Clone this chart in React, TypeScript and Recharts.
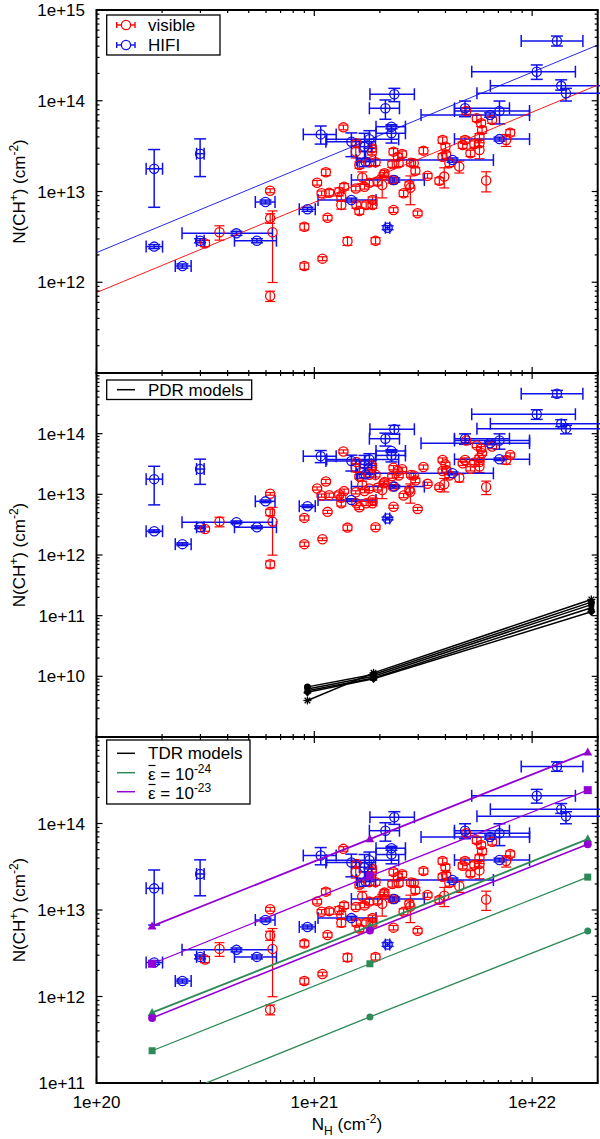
import React from "react";
import { ScatterChart, Scatter, XAxis, YAxis, ErrorBar, ReferenceArea } from "recharts";

const FONT = "'Liberation Sans', Arial, Helvetica, sans-serif";
const RED = "#ff0000";
const BLUE = "#1010e8";
const GREEN = "#2e8b57";
const PURPLE = "#9400d3";

// plot frame (page px), shared by the three panels
const PLOT_L = 96.5;
const PLOT_R = 597.7;

// N_H axis
const xDomain: [number, number] = [1e20, 2e22];

// visible (optical) CH+ sample: N_H, N(CH+), fractional error
const visNH = [
  3.15e20, 3.67e20, 6.27e20, 6.27e20, 6.43e20, 6.27e20, 9.0e20, 9.0e20, 1.09e21, 1.15e21,
  1.03e21, 1.13e21, 1.08e21, 1.17e21, 1.36e21, 1.3e21, 1.37e21, 1.33e21, 1.33e21, 1.42e21,
  1.56e21, 1.55e21, 1.55e21, 1.61e21, 1.61e21, 1.56e21, 1.66e21, 1.7e21, 1.79e21, 1.84e21,
  1.84e21, 1.79e21, 1.91e21, 1.85e21, 1.85e21, 1.73e21, 1.91e21, 1.95e21, 2.05e21, 2.08e21,
  2.31e21, 2.28e21, 2.29e21, 2.31e21, 2.44e21, 2.42e21, 2.53e21, 2.57e21, 2.73e21, 2.76e21,
  2.78e21, 2.86e21, 2.91e21, 2.98e21, 3.17e21, 3.31e21, 3.75e21, 3.88e21, 4.0e21, 3.88e21,
  4.03e21, 3.95e21, 4.17e21, 4.63e21, 4.8e21, 4.92e21, 5.21e21, 5.43e21, 5.57e21, 5.73e21,
  5.73e21, 5.73e21, 5.83e21, 5.89e21, 6.15e21, 6.55e21, 7.6e21, 7.93e21, 4.98e21, 2.1e21,
];
const visN = [
  2.68e12, 3.55e12, 1.02e13, 5.07e12, 3.55e12, 7.05e11, 4.09e12, 1.51e12, 1.82e12, 5.14e12,
  1.25e13, 1.63e13, 9.55e12, 9.7e12, 5.09e13, 9.95e12, 1.13e13, 8.77e12, 7.1e12, 2.83e12,
  3.4e13, 2.75e13, 1.08e13, 1.96e13, 6.1e12, 7.1e12, 1.43e13, 1.13e13, 1.25e13, 2.99e13,
  2.75e13, 2.1e13, 2.1e13, 8.06e12, 7.1e12, 7.1e12, 2.87e12, 1.28e13, 1.18e13, 1.52e13,
  2.75e13, 2.0e13, 1.34e13, 6.25e12, 2.05e13, 2.42e13, 2.59e13, 9.55e12, 1.18e13, 1.1e13,
  2.08e13, 2.05e13, 1.69e13, 5.75e12, 2.82e13, 1.49e13, 1.31e13, 3.69e13, 3.12e13, 2.42e13,
  2.52e13, 1.46e13, 2.05e13, 1.88e13, 3.25e13, 3.69e13, 2.64e13, 3.34e13, 6.41e13, 4.02e13,
  3.4e13, 2.87e13, 5.65e13, 4.77e13, 1.32e13, 6.14e13, 3.69e13, 4.45e13, 7.71e13, 1.59e13,
];
const visErr = [
  0.08, 0.18, 0.05, 0.12, 0.72, 0.13, 0.08, 0.08, 0.05, 0.06,
  0.06, 0.08, 0.06, 0.08, 0.06, 0.1, 0.08, 0.1, 0.1, 0.1,
  0.08, 0.15, 0.06, 0.08, 0.08, 0.08, 0.15, 0.06, 0.08, 0.08,
  0.08, 0.08, 0.08, 0.08, 0.08, 0.08, 0.08, 0.08, 0.28, 0.06,
  0.08, 0.08, 0.08, 0.06, 0.08, 0.08, 0.08, 0.08, 0.08, 0.35,
  0.08, 0.08, 0.08, 0.06, 0.08, 0.06, 0.08, 0.08, 0.08, 0.08,
  0.08, 0.25, 0.08, 0.15, 0.08, 0.08, 0.08, 0.08, 0.08, 0.08,
  0.08, 0.2, 0.08, 0.08, 0.25, 0.08, 0.15, 0.08, 0.08, 0.08,
];

// HIFI sample: N_H with range, N(CH+) with range
const hifiNH = [
  1.84e20, 2.99e20, 1.84e20, 2.48e20, 2.99e20, 4.39e20, 5.45e20, 5.97e20, 9.3e20, 1.07e21,
  1.48e21, 1.79e21, 1.7e21, 1.72e21, 2.26e21, 2.26e21, 2.33e21, 2.12e21, 2.33e21, 1.48e21,
  2.17e21, 4.31e21, 4.92e21, 6.41e21, 7.08e21, 7.08e21, 1.05e22, 1.3e22, 1.36e22, 1.43e22,
];
const hifiNHlo = [
  1.69e20, 2.88e20, 1.69e20, 2.3e20, 2.88e20, 2.47e20, 4.3e20, 5.36e20, 8.53e20, 8.9e20,
  1.13e21, 1.14e21, 1.61e21, 1.58e21, 1.92e21, 1.92e21, 1.8e21, 1.79e21, 1.48e21, 1.04e21,
  2.12e21, 1.56e21, 4.4e21, 3.09e21, 4.4e21, 4.4e21, 5.28e21, 8.91e21, 6.43e21, 5.58e21,
];
const hifiNHhi = [
  2.01e20, 3.12e20, 2.01e20, 2.72e20, 3.12e20, 6.42e20, 6.7e20, 6.6e20, 1.01e21, 1.26e21,
  1.91e21, 2.44e21, 1.83e21, 1.91e21, 2.62e21, 2.62e21, 2.88e21, 2.46e21, 3.2e21, 1.92e21,
  2.22e21, 6.64e21, 7.87e21, 9.73e21, 9.73e21, 9.73e21, 1.58e22, 1.71e22, 2.6e22, 2.6e22,
];
const hifiN = [
  1.78e13, 2.61e13, 2.47e12, 1.51e12, 2.87e12, 3.46e12, 2.87e12, 7.66e12, 6.37e12, 4.26e13,
  3.54e13, 3.76e13, 3.12e13, 2.13e13, 5.18e13, 4.38e13, 1.18e14, 8.26e13, 1.34e13, 8.06e12,
  3.99e12, 2.22e13, 8.26e13, 6.97e13, 7.71e13, 3.78e13, 2.09e14, 4.55e14, 1.46e14, 1.21e14,
];
const hifiNlo = [
  6.7e12, 1.46e13, 2.35e12, 1.43e12, 2.72e12, 3.28e12, 2.72e12, 7.3e12, 6.05e12, 3.33e13,
  2.42e13, 2.99e13, 2.32e13, 1.88e13, 4.9e13, 3.42e13, 9.77e13, 6.25e13, 1.27e13, 7.65e12,
  3.8e12, 2.1e13, 6.67e13, 6.6e13, 5.55e13, 3.6e13, 1.72e14, 4.01e14, 1.31e14, 9.93e13,
];
const hifiNhi = [
  2.9e13, 3.8e13, 2.6e12, 1.59e12, 3.02e12, 3.64e12, 3.02e12, 8.05e12, 6.7e12, 5.27e13,
  4.42e13, 4.68e13, 4.38e13, 2.75e13, 5.45e13, 5.27e13, 1.37e14, 1.02e14, 1.41e13, 8.45e12,
  4.2e12, 2.34e13, 9.93e13, 7.35e13, 9.93e13, 3.97e13, 2.48e14, 5.16e14, 1.7e14, 1.37e14,
];

// power-law fits (top panel), end points
const fitNH = [1e20, 2e22];
const fitVisible = [7.7e11, 1.49e14];
const fitHifi = [2.12e12, 4.11e14];

// PDR models (middle panel)
const pdrNH = [9.3e20, 1.87e21, 1.87e22];
const pdrA = [4.0e9, 1.14e10, 1.85e11];
const pdrB = [6.7e9, 1.07e10, 1.67e11];
const pdrC = [6.2e9, 1.0e10, 1.52e11];
const pdrD = [5.8e9, 9.4e9, 1.35e11];
const pdrE = [5.45e9, 9.1e9, 1.16e11];

// TDR models (bottom panel)
const tdrNH = [1.8e20, 1.8e21, 1.8e22];
const tdr24Tri = [6.5e11, 6.5e12, 6.6e13];
const tdr24Sq = [2.36e11, 2.39e12, 2.4e13];
const tdr24Circ = [5.6e10, 5.8e11, 5.7e12];
const tdr23Tri = [6.5e12, 6.6e13, 6.65e14];
const tdr23Sq = [2.39e12, 2.47e13, 2.43e14];
const tdr23Circ = [5.65e11, 5.8e12, 5.75e13];

const visiblePts = visNH.map((x, i) => ({
  x,
  y: visN[i],
  ey: [visN[i] * visErr[i], visN[i] * visErr[i]],
}));
const hifiPts = hifiNH.map((x, i) => ({
  x,
  y: hifiN[i],
  ex: [x - hifiNHlo[i], hifiNHhi[i] - x],
  ey: [hifiN[i] - hifiNlo[i], hifiNhi[i] - hifiN[i]],
}));
const pairs = (xs: number[], ys: number[]) => xs.map((x, i) => ({ x, y: ys[i] }));

const logTicks = (lo: number, hi: number, max: number) => {
  const out: number[] = [];
  for (let e = lo; e <= hi; e++)
    for (let m = 1; m <= 9; m++) {
      const v = Number((m * Math.pow(10, e)).toPrecision(3));
      if (v <= max * 1.0001) out.push(v);
    }
  return out;
};
const isDecade = (v: number) => Math.abs(Math.log10(v) - Math.round(Math.log10(v))) < 1e-6;
const fmt = (v: number) => `1e+${Math.round(Math.log10(v))}`;
const inList = (v: number, list: number[]) => list.some((l) => Math.abs(Math.log10(v) - Math.log10(l)) < 1e-6);

const xTicks = logTicks(20, 22, 2e22);

const makeXTick = (plotTop: number, labels: boolean) => (p: any) => {
  const { x, y, payload } = p;
  const v = payload.value;
  const major = isDecade(v);
  const len = major ? 6 : 3;
  return (
    <g>
      <line x1={x} x2={x} y1={y} y2={y - len} stroke="#000" strokeWidth={1.2} />
      <line x1={x} x2={x} y1={plotTop} y2={plotTop + len} stroke="#000" strokeWidth={1.2} />
      {labels && major && (
        <text x={x} y={y + 25} textAnchor="middle" fontSize={17} fontFamily={FONT} fill="#000">
          {fmt(v)}
        </text>
      )}
    </g>
  );
};

const makeYTick = (labelled: number[]) => (p: any) => {
  const { x, y, payload } = p;
  const v = payload.value;
  const major = isDecade(v);
  const len = major ? 6 : 3;
  return (
    <g>
      <line x1={x} x2={x + len} y1={y} y2={y} stroke="#000" strokeWidth={1.2} />
      <line x1={PLOT_R} x2={PLOT_R - len} y1={y} y2={y} stroke="#000" strokeWidth={1.2} />
      {inList(v, labelled) && (
        <text x={x - 11.5} y={y} dy="0.36em" textAnchor="end" fontSize={17} fontFamily={FONT} fill="#000">
          {fmt(v)}
        </text>
      )}
    </g>
  );
};

const openCircle = (color: string) => (p: any) => (
  <circle cx={p.cx} cy={p.cy} r={4.6} fill="none" stroke={color} strokeWidth={1.3} />
);
const marker = (kind: string, color: string, s: number) => (p: any) => {
  const { cx, cy } = p;
  if (kind === "circle") return <circle cx={cx} cy={cy} r={s / 2} fill={color} />;
  if (kind === "square") return <rect x={cx - s / 2} y={cy - s / 2} width={s} height={s} fill={color} />;
  if (kind === "triangle")
    return <path d={`M${cx},${cy - s * 0.6}L${cx + s * 0.55},${cy + s * 0.4}L${cx - s * 0.55},${cy + s * 0.4}Z`} fill={color} />;
  if (kind === "diamond")
    return <path d={`M${cx},${cy - s * 0.6}L${cx + s * 0.6},${cy}L${cx},${cy + s * 0.6}L${cx - s * 0.6},${cy}Z`} fill={color} />;
  if (kind === "star") {
    const r = s / 2;
    return (
      <g stroke={color} strokeWidth={1.3}>
        <line x1={cx - r} x2={cx + r} y1={cy} y2={cy} />
        <line x1={cx} x2={cx} y1={cy - r} y2={cy + r} />
        <line x1={cx - r * 0.7} x2={cx + r * 0.7} y1={cy - r * 0.7} y2={cy + r * 0.7} />
        <line x1={cx - r * 0.7} x2={cx + r * 0.7} y1={cy + r * 0.7} y2={cy - r * 0.7} />
      </g>
    );
  }
  return <g />;
};
const noShape = () => <g />;

type PanelCfg = {
  top: number;
  height: number;
  mt: number;
  xh: number;
  yExp: [number, number];
  labelled: number[];
  xLabels: boolean;
};

const axes = (c: PanelCfg) => {
  const yDomain: [number, number] = [Math.pow(10, c.yExp[0]), Math.pow(10, c.yExp[1])];
  return [
    <XAxis
      key="x"
      dataKey="x"
      type="number"
      scale="log"
      domain={xDomain}
      allowDataOverflow
      ticks={xTicks}
      interval={0}
      tickSize={0}
      tickMargin={0}
      axisLine={false}
      height={c.xh}
      tick={makeXTick(c.mt, c.xLabels)}
    />,
    <YAxis
      key="y"
      dataKey="y"
      type="number"
      scale="log"
      domain={yDomain}
      allowDataOverflow
      ticks={logTicks(c.yExp[0], c.yExp[1], yDomain[1])}
      interval={0}
      tickSize={0}
      tickMargin={0}
      axisLine={false}
      width={PLOT_L}
      tick={makeYTick(c.labelled)}
    />,
    <ReferenceArea
      key="frame"
      x1={xDomain[0]}
      x2={xDomain[1]}
      y1={yDomain[0]}
      y2={yDomain[1]}
      fill="none"
      fillOpacity={0}
      stroke="#000"
      strokeWidth={2}
      strokeOpacity={1}
    />,
  ];
};

const observations = () => [
  <Scatter key="vis" data={visiblePts} shape={openCircle(RED)} isAnimationActive={false}>
    <ErrorBar dataKey="ey" direction="y" width={5} stroke={RED} strokeWidth={1.2} />
  </Scatter>,
  <Scatter key="hifi" data={hifiPts} shape={openCircle(BLUE)} isAnimationActive={false}>
    <ErrorBar dataKey="ex" direction="x" width={6} stroke={BLUE} strokeWidth={1.5} />
    <ErrorBar dataKey="ey" direction="y" width={6} stroke={BLUE} strokeWidth={1.5} />
  </Scatter>,
];

const modelLine = (key: string, ys: number[], xs: number[], color: string, kind: string, s: number, w: number) => (
  <Scatter
    key={key}
    data={pairs(xs, ys)}
    line={{ stroke: color, strokeWidth: w }}
    shape={marker(kind, color, s)}
    isAnimationActive={false}
  />
);

const P1: PanelCfg = { top: 0, height: 380, mt: 10, xh: 7, yExp: [11, 15], labelled: [1e12, 1e13, 1e14, 1e15], xLabels: false };
const P2: PanelCfg = { top: 360, height: 390, mt: 13, xh: 13, yExp: [9, 15], labelled: [1e10, 1e11, 1e12, 1e13, 1e14], xLabels: false };
const P3: PanelCfg = { top: 720, height: 419, mt: 17, xh: 56, yExp: [11, 15], labelled: [1e11, 1e12, 1e13, 1e14], xLabels: true };

const Panel = ({ cfg, children }: { cfg: PanelCfg; children: any }) => (
  <div style={{ position: "absolute", left: 0, top: cfg.top, width: 600, height: cfg.height }}>
    <ScatterChart width={600} height={cfg.height} margin={{ top: cfg.mt, right: 600 - PLOT_R, bottom: 0, left: 0 }}>
      {children}
    </ScatterChart>
  </div>
);

const YTitle = ({ cy }: { cy: number }) => (
  <text x={25} y={cy} transform={`rotate(-90 25 ${cy})`} textAnchor="middle" fontSize={17} fontFamily={FONT} fill="#000">
    N(CH<tspan dy={-7} fontSize={12}>+</tspan>
    <tspan dy={7}>) (cm</tspan>
    <tspan dy={-7} fontSize={12}>-2</tspan>
    <tspan dy={7}>)</tspan>
  </text>
);

const ErrGlyph = ({ y, color }: { y: number; color: string }) => (
  <g stroke={color} strokeWidth={1.4} fill="none">
    <line x1={116.7} x2={135} y1={y} y2={y} />
    <line x1={116.7} x2={116.7} y1={y - 3} y2={y + 3} />
    <line x1={135} x2={135} y1={y - 3} y2={y + 3} />
    <circle cx={126} cy={y} r={4.6} strokeWidth={1.3} fill="#fff" />
  </g>
);
const LineGlyph = ({ y, color }: { y: number; color: string }) => (
  <line x1={117} x2={135} y1={y} y2={y} stroke={color} strokeWidth={1.5} />
);
const LegendText = ({ y, children }: { y: number; children: any }) => (
  <text x={148} y={y} dy="0.36em" fontSize={17} fontFamily={FONT} fill="#000">
    {children}
  </text>
);
// epsilon with a bar over it
const EpsBar = ({ y, exp }: { y: number; exp: string }) => (
  <g>
    <LegendText y={y}>
      ε = 10<tspan dy={-7} fontSize={12}>{exp}</tspan>
    </LegendText>
    <line x1={148.5} x2={155.5} y1={y - 8.5} y2={y - 8.5} stroke="#000" strokeWidth={1.2} />
  </g>
);

export default function App() {
  return (
    <div style={{ position: "absolute", left: 0, top: 0, width: 600, height: 1139, background: "#fff", fontFamily: FONT }}>
      <Panel cfg={P1}>
        {axes(P1)}
        <Scatter data={pairs(fitNH, fitHifi)} line={{ stroke: BLUE, strokeWidth: 0.9 }} shape={noShape} isAnimationActive={false} />
        <Scatter data={pairs(fitNH, fitVisible)} line={{ stroke: RED, strokeWidth: 0.9 }} shape={noShape} isAnimationActive={false} />
        {observations()}
      </Panel>
      <Panel cfg={P2}>
        {axes(P2)}
        {observations()}
        {modelLine("pa", pdrA, pdrNH, "#000", "star", 8, 1.5)}
        {modelLine("pb", pdrB, pdrNH, "#000", "circle", 7, 1.5)}
        {modelLine("pc", pdrC, pdrNH, "#000", "square", 6, 1.5)}
        {modelLine("pd", pdrD, pdrNH, "#000", "triangle", 7, 1.5)}
        {modelLine("pe", pdrE, pdrNH, "#000", "diamond", 7, 1.5)}
      </Panel>
      <Panel cfg={P3}>
        {axes(P3)}
        {observations()}
        {modelLine("g3", tdr24Circ, tdrNH, GREEN, "circle", 7, 1.3)}
        {modelLine("g2", tdr24Sq, tdrNH, GREEN, "square", 7, 1.3)}
        {modelLine("g1", tdr24Tri, tdrNH, GREEN, "triangle", 8, 1.8)}
        {modelLine("v3", tdr23Circ, tdrNH, PURPLE, "circle", 8, 1.6)}
        {modelLine("v2", tdr23Sq, tdrNH, PURPLE, "square", 8, 1.3)}
        {modelLine("v1", tdr23Tri, tdrNH, PURPLE, "triangle", 8, 1.8)}
      </Panel>
      <svg width={600} height={1139} style={{ position: "absolute", left: 0, top: 0, pointerEvents: "none" }}>
        <YTitle cy={191.5} />
        <YTitle cy={555} />
        <YTitle cy={910} />
        <text x={347} y={1130} textAnchor="middle" fontSize={17} fontFamily={FONT} fill="#000">
          N<tspan dy={5} fontSize={12}>H</tspan>
          <tspan dy={-5}> (cm</tspan>
          <tspan dy={-7} fontSize={12}>-2</tspan>
          <tspan dy={7}>)</tspan>
        </text>

        <rect x={106.7} y={15} width={113.3} height={40} fill="none" stroke="#000" strokeWidth={1.3} />
        <ErrGlyph y={25} color={RED} />
        <LegendText y={25}>visible</LegendText>
        <ErrGlyph y={45} color={BLUE} />
        <LegendText y={45}>HIFI</LegendText>

        <rect x={106.7} y={380} width={145} height={19.5} fill="none" stroke="#000" strokeWidth={1.3} />
        <LineGlyph y={389.7} color="#000" />
        <LegendText y={389.7}>PDR models</LegendText>

        <rect x={106.7} y={740} width={143.3} height={64} fill="none" stroke="#000" strokeWidth={1.3} />
        <LineGlyph y={753.3} color="#000" />
        <LegendText y={753.3}>TDR models</LegendText>
        <LineGlyph y={772.7} color={GREEN} />
        <EpsBar y={774} exp="-24" />
        <LineGlyph y={791.7} color={PURPLE} />
        <EpsBar y={793} exp="-23" />
      </svg>
    </div>
  );
}
